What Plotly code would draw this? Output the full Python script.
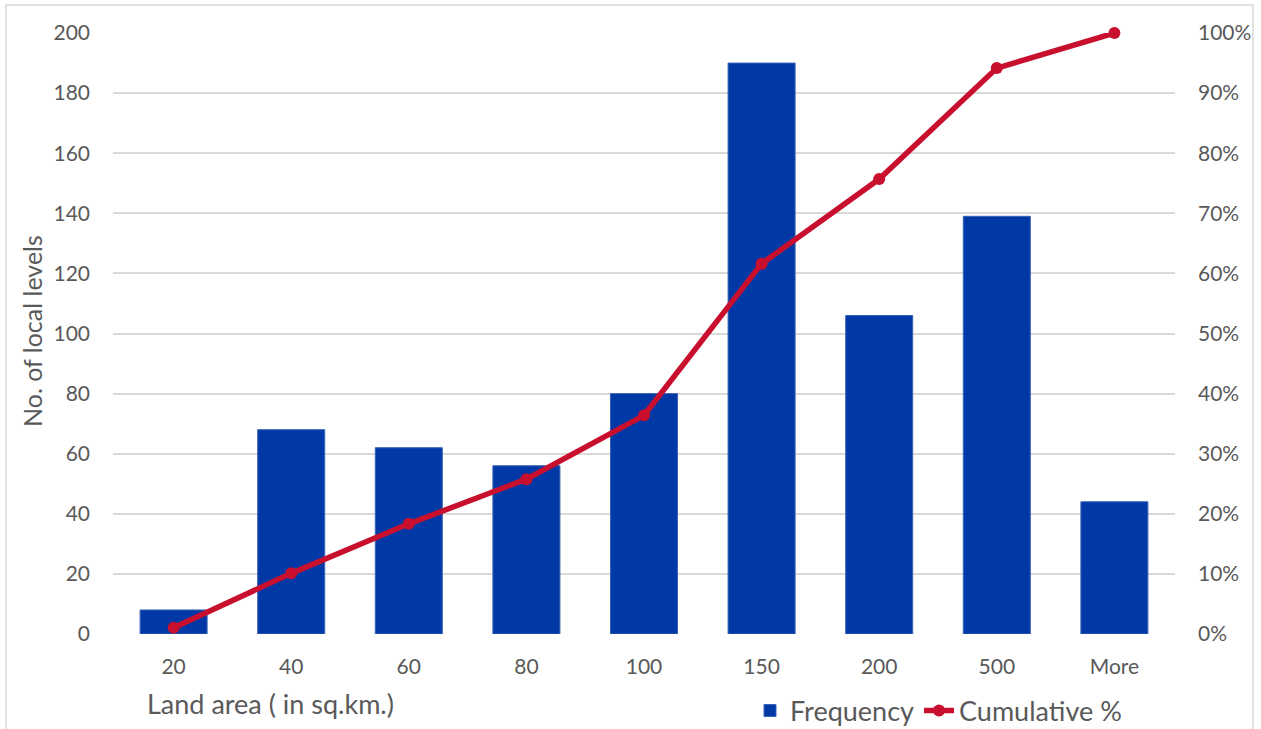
import plotly.graph_objects as go

categories = ["20", "40", "60", "80", "100", "150", "200", "500", "More"]
frequency = [8, 68, 62, 56, 80, 190, 106, 139, 44]
cumulative_pct = [1.06, 10.09, 18.33, 25.76, 36.39, 61.62, 75.70, 94.16, 100.0]

W, H = 1261, 729
L, R, T, B = 113, 1175, 33, 634
def px(x):
    return (x - L) / (R - L)
def py(y):
    return (B - y) / (B - T)

FONT = "Lato"
GREY = "#595959"

fig = go.Figure()
fig.add_trace(go.Bar(
    x=categories, y=frequency, name="Frequency",
    marker=dict(color="#0039A6", line=dict(color="#3a64b8", width=1)),
    width=0.57,
))
fig.add_trace(go.Scatter(
    x=categories, y=cumulative_pct, name="Cumulative %", yaxis="y2",
    mode="lines+markers", cliponaxis=False,
    line=dict(color="#C8102E", width=5.5),
    marker=dict(color="#C8102E", size=12),
))

fig.update_layout(
    width=W, height=H,
    margin=dict(l=L, r=W - R, t=T, b=H - B, autoexpand=False),
    paper_bgcolor="white", plot_bgcolor="white",
    font=dict(family=FONT, color=GREY, size=21),
    showlegend=True,
    legend=dict(
        orientation="h", x=px(750), xanchor="left", y=py(711), yanchor="middle",
        font=dict(size=27, color=GREY), bgcolor="rgba(0,0,0,0)",
        itemwidth=30, tracegroupgap=0,
    ),
    xaxis=dict(
        type="category", showgrid=False, showline=False, zeroline=False,
        ticks="", tickfont=dict(size=21, color=GREY), ticklabelstandoff=18,
    ),
    yaxis=dict(
        range=[0, 200], dtick=20, showgrid=True, gridcolor="#D9D9D9", gridwidth=2,
        zeroline=False, showline=False, ticks="",
        tickfont=dict(size=21, color=GREY), ticklabelstandoff=22,
    ),
    yaxis2=dict(
        range=[0, 100], dtick=10, ticksuffix="%", overlaying="y", side="right",
        showgrid=False, zeroline=False, showline=False, ticks="",
        tickfont=dict(size=21, color=GREY), ticklabelstandoff=22,
    ),
    annotations=[
        dict(text="No. of local levels", xref="paper", yref="paper",
             x=px(32), y=py(331), textangle=-90, showarrow=False,
             font=dict(size=25, color=GREY), xanchor="center", yanchor="middle"),
        dict(text="Land area ( in sq.km.)", xref="paper", yref="paper",
             x=px(145), y=py(704), showarrow=False,
             font=dict(size=27, color=GREY), xanchor="left", yanchor="middle"),
    ],
    shapes=[
        dict(type="rect", xref="paper", yref="paper",
             x0=px(6), x1=px(1253), y0=py(740), y1=py(5),
             line=dict(color="#D9D9D9", width=1.5), fillcolor="rgba(0,0,0,0)",
             layer="below"),
    ],
)

fig.write_html("out.html")
